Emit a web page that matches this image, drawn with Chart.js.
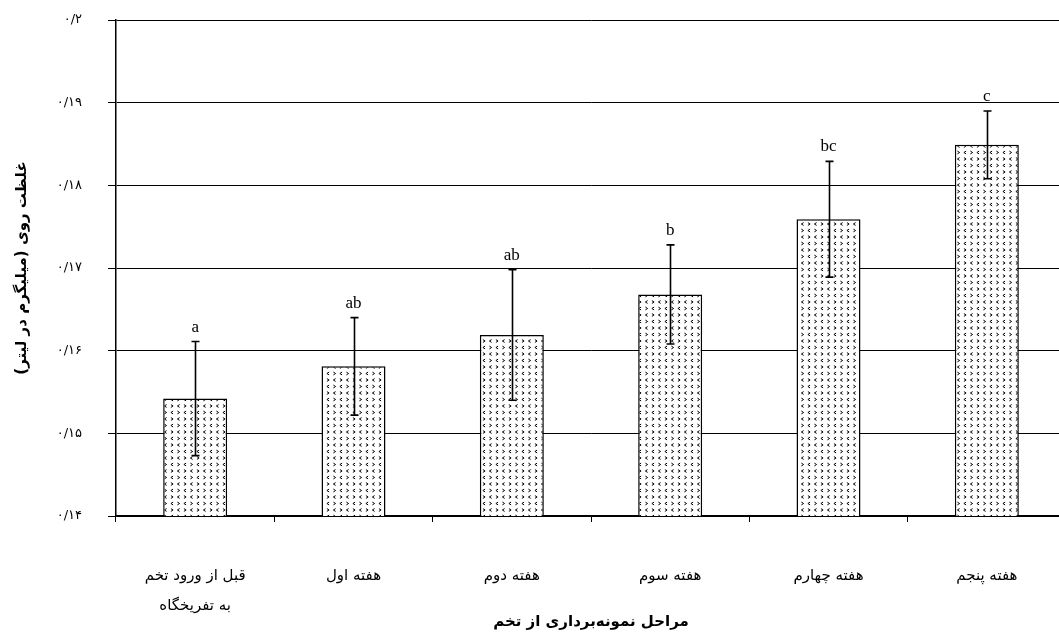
<!DOCTYPE html>
<html><head><meta charset="utf-8">
<script src="https://cdn.jsdelivr.net/npm/chart.js@4"></script>
<style>html,body{margin:0;padding:0;background:#fff;overflow:hidden;width:1059px;height:635px}canvas{display:block}</style>
</head><body><canvas id="c" width="1067" height="635"></canvas>
<script>
const categories = [['قبل از ورود تخم', 'به تفریخگاه'], 'هفته اول', 'هفته دوم', 'هفته سوم', 'هفته چهارم', 'هفته پنجم'];
const means = [0.1542, 0.1581, 0.1619, 0.1668, 0.1759, 0.1849];
const errors = [0.0069, 0.0059, 0.0079, 0.0060, 0.0070, 0.0041];
const letters = ['a', 'ab', 'ab', 'b', 'bc', 'c'];
const yTickLabels = ['۰/۱۴', '۰/۱۵', '۰/۱۶', '۰/۱۷', '۰/۱۸', '۰/۱۹', '۰/۲'];
const yTitle = 'غلظت روی (میلیگرم در لیتر)\u200F';
const xTitle = 'مراحل نمونه‌برداری از تخم';

const canvas = document.getElementById('c');
const ctx0 = canvas.getContext('2d');

function makePattern() {
  const t = document.createElement('canvas');
  t.width = 13; t.height = 13;
  const g = t.getContext('2d');
  g.fillStyle = '#fff'; g.fillRect(0, 0, 13, 13);
  g.strokeStyle = '#000'; g.lineWidth = 1;
  function chev(x, y, d) {
    g.beginPath();
    g.moveTo(x - d * 1.1, y - 1.4);
    g.lineTo(x + d * 1.1, y);
    g.lineTo(x - d * 1.1, y + 1.4);
    g.stroke();
  }
  chev(3, 3, 1); chev(9.5, 3, -1); chev(3, 9.5, -1); chev(9.5, 9.5, 1);
  return ctx0.createPattern(t, 'repeat');
}

const bgPlugin = {
  id: 'bg',
  beforeDraw(chart) {
    const c = chart.ctx;
    c.save(); c.fillStyle = '#fff'; c.fillRect(0, 0, chart.width, chart.height); c.restore();
  }
};

const errPlugin = {
  id: 'err',
  afterDatasetsDraw(chart) {
    const c = chart.ctx, y = chart.scales.y, meta = chart.getDatasetMeta(0);
    c.save();
    c.strokeStyle = '#000'; c.lineWidth = 1.6; c.fillStyle = '#000';
    meta.data.forEach((bar, i) => {
      const x = Math.round(bar.x) + 0.5;
      const top = y.getPixelForValue(means[i] + errors[i]);
      const bot = y.getPixelForValue(means[i] - errors[i]);
      c.beginPath();
      c.moveTo(x, top); c.lineTo(x, bot);
      c.moveTo(x - 4, top); c.lineTo(x + 4, top);
      c.moveTo(x - 4, bot); c.lineTo(x + 4, bot);
      c.stroke();
      c.font = '17px "Liberation Serif"';
      c.textAlign = 'center'; c.textBaseline = 'alphabetic';
      c.fillText(letters[i], bar.x, top - 10);
    });
    c.restore();
  }
};

new Chart(canvas, {
  type: 'bar',
  data: {
    labels: categories,
    datasets: [{
      data: means,
      backgroundColor: makePattern(),
      borderColor: '#000',
      borderWidth: 1.5,
      borderSkipped: false,
      categoryPercentage: 1,
      barPercentage: 0.404
    }]
  },
  options: {
    responsive: false,
    animation: false,
    devicePixelRatio: 1,
    layout: { padding: { top: 20, right: 1, left: 0, bottom: 0 } },
    plugins: { legend: { display: false }, tooltip: { enabled: false } },
    scales: {
      x: {
        offset: true,
        grid: { display: true, drawOnChartArea: false, color: '#000', tickLength: 6, offset: true },
        border: { color: '#000', width: 1.5 },
        ticks: { font: { family: 'DejaVu Sans', size: 15, lineHeight: 2 }, color: '#000', padding: 39, maxRotation: 0, autoSkip: false },
        title: { display: true, text: xTitle, color: '#000', font: { family: 'DejaVu Sans', size: 15, weight: 'bold', lineHeight: 1.2 }, padding: { top: 4, bottom: 4 } },
        afterFit(s) { s.height = 119; }
      },
      y: {
        min: 0.14, max: 0.20,
        ticks: {
          stepSize: 0.01,
          callback: (v, i) => yTickLabels[i],
          font: { family: 'DejaVu Sans', size: 13 },
          color: '#000',
          padding: 26
        },
        grid: { color: '#000', lineWidth: 1, tickLength: 8, tickColor: '#000' },
        border: { color: '#000', width: 1.5 },
        title: { display: true, text: yTitle, color: '#000', font: { family: 'DejaVu Sans', size: 15, weight: 'bold', lineHeight: 1.2 }, padding: { top: 13, bottom: 0 } },
        afterFit(s) { s.width = 116; s.paddingTop = 0; s.paddingBottom = 0; }
      }
    }
  },
  plugins: [bgPlugin, errPlugin]
});
</script>
</body></html>
